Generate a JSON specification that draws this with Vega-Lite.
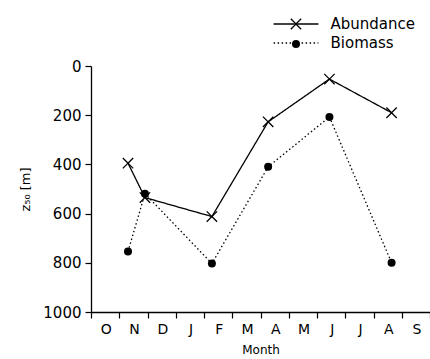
{
  "$schema": "https://vega.github.io/schema/vega-lite/v6.json",
  "width": 339,
  "height": 246,
  "autosize": "none",
  "padding": {"left": 91, "top": 66, "right": 0, "bottom": 47},
  "background": "white",
  "config": {
    "view": {"stroke": null},
    "font": "DejaVu Sans"
  },
  "data": {
    "values": [
      {"month": 1.31, "z": 395, "series": "Abundance"},
      {"month": 1.91, "z": 535, "series": "Abundance"},
      {"month": 4.28, "z": 612, "series": "Abundance"},
      {"month": 6.27, "z": 227, "series": "Abundance"},
      {"month": 8.44, "z": 53, "series": "Abundance"},
      {"month": 10.64, "z": 190, "series": "Abundance"},
      {"month": 1.31, "z": 754, "series": "Biomass"},
      {"month": 1.91, "z": 519, "series": "Biomass"},
      {"month": 4.28, "z": 803, "series": "Biomass"},
      {"month": 6.27, "z": 410, "series": "Biomass"},
      {"month": 8.44, "z": 207, "series": "Biomass"},
      {"month": 10.64, "z": 800, "series": "Biomass"}
    ]
  },
  "encoding": {
    "x": {
      "field": "month",
      "type": "quantitative",
      "scale": {"domain": [0, 12], "nice": false, "zero": false},
      "axis": {
        "values": [0, 1, 2, 3, 4, 5, 6, 7, 8, 9, 10, 11, 12],
        "labelExpr": "['O','N','D','J','F','M','A','M','J','J','A','S',''][datum.value]",
        "labelOffset": 14.8,
        "labelAlign": "center",
        "tickSize": 6,
        "tickWidth": 1.2,
        "labelPadding": 4,
        "labelFontSize": 14,
        "labelColor": "black",
        "domainColor": "black",
        "domainWidth": 1.3,
        "tickColor": "black",
        "grid": false,
        "labelOverlap": false,
        "labelFlush": false,
        "labelBound": false,
        "title": "Month",
        "titleFontSize": 12,
        "titleFontWeight": "normal",
        "titleColor": "black",
        "titlePadding": 8
      }
    },
    "y": {
      "field": "z",
      "type": "quantitative",
      "scale": {"domain": [0, 1000], "reverse": true, "nice": false, "zero": false},
      "axis": {
        "values": [0, 200, 400, 600, 800, 1000],
        "format": "d",
        "tickSize": 6,
        "tickWidth": 1.2,
        "labelPadding": 4,
        "labelFontSize": 15,
        "labelColor": "black",
        "domainColor": "black",
        "domainWidth": 1.3,
        "tickColor": "black",
        "grid": false,
        "labelOverlap": false,
        "labelFlush": false,
        "title": "z₅₀ [m]",
        "titleFontSize": 13,
        "titleFontWeight": "normal",
        "titleColor": "black",
        "titlePadding": 10
      }
    }
  },
  "layer": [
    {
      "mark": {"type": "line", "color": "black", "strokeWidth": 1.3},
      "encoding": {
        "strokeDash": {
          "field": "series",
          "type": "nominal",
          "scale": {"domain": ["Abundance", "Biomass"], "range": [[1, 0], [1.5, 2.5]]},
          "legend": {
            "orient": "none",
            "legendX": 197.5,
            "legendY": -49.5,
            "title": null,
            "padding": 0,
            "symbolType": "M-5.6,0L5.6,0",
            "symbolSize": 64,
            "symbolStrokeColor": "black",
            "symbolStrokeWidth": 1.3,
            "labelFontSize": 15,
            "labelColor": "black",
            "labelOffset": 27,
            "rowPadding": 3
          }
        }
      }
    },
    {
      "mark": {"type": "point", "filled": true, "color": "black", "strokeWidth": 0, "opacity": 1, "size": 64},
      "encoding": {
        "shape": {
          "field": "series",
          "type": "nominal",
          "scale": {"range": ["M0,0.226L1.188,1.414L1.414,1.188L0.226,0L1.414,-1.188L1.188,-1.414L0,-0.226L-1.188,-1.414L-1.414,-1.188L-0.226,0L-1.414,1.188L-1.188,1.414Z", "circle"]},
          "legend": {
            "orient": "none",
            "legendX": 197.5,
            "legendY": -49.5,
            "title": null,
            "padding": 0,
            "symbolSize": 64,
            "symbolFillColor": "black",
            "labelFontSize": 15,
            "labelOpacity": 0,
            "labelOffset": 27,
            "rowPadding": 3
          }
        }
      }
    }
  ]
}
